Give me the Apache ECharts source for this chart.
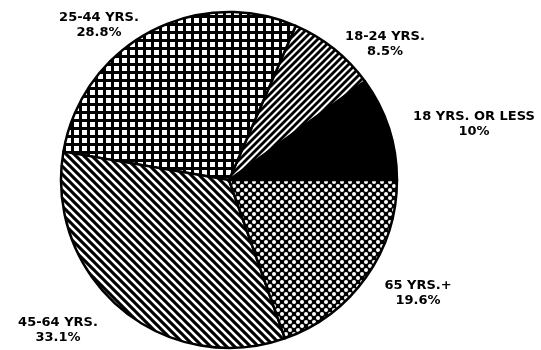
<!DOCTYPE html>
<html>
<head>
<meta charset="utf-8">
<script src="https://cdn.jsdelivr.net/npm/echarts@6/dist/echarts.min.js"></script>
<style>
html,body{margin:0;padding:0;background:#fff;}
#chart{width:541px;height:350px;}
</style>
</head>
<body>
<div id="chart"></div>
<script>
// Data
var categories = ['18 YRS. OR LESS', '18-24 YRS.', '25-44 YRS.', '45-64 YRS.', '65 YRS.+'];
var values = [10, 8.5, 28.8, 33.1, 19.6];
var valueLabels = ['10%', '8.5%', '28.8%', '33.1%', '19.6%'];

// Label placement (layout, not data)
var labelPos = [[474, 124], [385, 44], [99, 25], [58, 330], [418, 293]];

function makeTile(w, h, draw) {
  var c = document.createElement('canvas');
  c.width = w; c.height = h;
  var ctx = c.getContext('2d');
  draw(ctx, w, h);
  return c;
}
// 18-24: "/" stripes
var stripesUp = makeTile(7, 7, function (ctx, w, h) {
  ctx.fillStyle = '#fff'; ctx.fillRect(0, 0, w, h);
  ctx.strokeStyle = '#000'; ctx.lineWidth = 2.8;
  for (var k = -1; k <= 1; k++) {
    ctx.beginPath(); ctx.moveTo(k * w - 1, h + 1); ctx.lineTo(k * w + w + 1, -1); ctx.stroke();
  }
});
// 25-44: grid of white squares
var grid = makeTile(8, 8, function (ctx, w, h) {
  ctx.fillStyle = '#000'; ctx.fillRect(0, 0, w, h);
  ctx.fillStyle = '#fff'; ctx.fillRect(2, 2, 5, 5);
});
// 45-64: "\" stripes
var stripesDown = makeTile(8, 8, function (ctx, w, h) {
  ctx.fillStyle = '#fff'; ctx.fillRect(0, 0, w, h);
  ctx.strokeStyle = '#000'; ctx.lineWidth = 3.1;
  for (var k = -1; k <= 1; k++) {
    ctx.beginPath(); ctx.moveTo(k * w - 1, -1); ctx.lineTo(k * w + w + 1, h + 1); ctx.stroke();
  }
});
// 65+: black with white dots, staggered
var dots = makeTile(8, 8, function (ctx, w, h) {
  ctx.fillStyle = '#000'; ctx.fillRect(0, 0, w, h);
  ctx.fillStyle = '#fff';
  ctx.beginPath(); ctx.arc(2, 2, 2, 0, Math.PI * 2); ctx.fill();
  ctx.beginPath(); ctx.arc(6, 6, 2, 0, Math.PI * 2); ctx.fill();
});

var fills = ['#000',
  { image: stripesUp, repeat: 'repeat' },
  { image: grid, repeat: 'repeat' },
  { image: stripesDown, repeat: 'repeat' },
  { image: dots, repeat: 'repeat' }];

var data = categories.map(function (name, i) {
  return {
    name: name,
    value: values[i],
    itemStyle: { color: fills[i] },
    label: { formatter: name + '\n' + valueLabels[i] }
  };
});

var chart = echarts.init(document.getElementById('chart'), null, { renderer: 'canvas' });
chart.setOption({
  backgroundColor: '#fff',
  animation: false,
  series: [{
    type: 'pie',
    center: [229, 180],
    radius: [0, 168],
    startAngle: 0,
    clockwise: false,
    avoidLabelOverlap: false,
    itemStyle: { borderColor: '#000', borderWidth: 2.5 },
    emphasis: { disabled: true },
    label: {
      show: true,
      position: 'outside',
      color: '#000',
      fontFamily: 'DejaVu Sans',
      fontWeight: 'bold',
      fontSize: 13,
      lineHeight: 15,
      align: 'center'
    },
    labelLine: { show: false },
    labelLayout: function (params) {
      var p = labelPos[params.dataIndex];
      return { x: p[0], y: p[1], align: 'center', verticalAlign: 'middle' };
    },
    data: data
  }]
});
</script>
</body>
</html>
